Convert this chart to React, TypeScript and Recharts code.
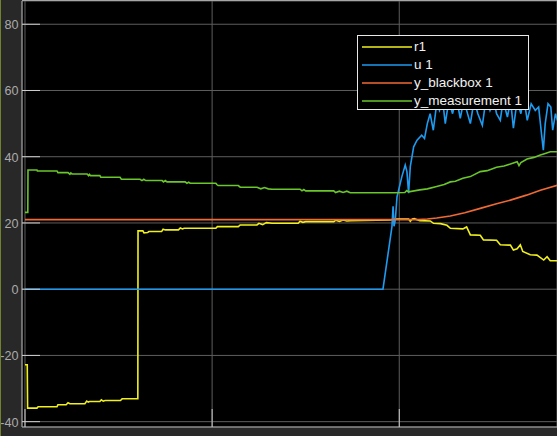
import React from 'react';
import { LineChart, Line, XAxis, YAxis, CartesianGrid, Legend } from 'recharts';

type Pt = { t: number; v: number };
const mk = (arr: number[][]): Pt[] => arr.map(([t, v]) => ({ t, v }));

const seriesNames = ['r1', 'u 1', 'y_blackbox 1', 'y_measurement 1'];
const seriesColors = ['#f0f01e', '#1e9bf0', '#f06a35', '#6ac62a'];
const yTicks = [-40, -20, 0, 20, 40, 60, 80];
const xTicks = [0, 10, 20];

const r1Values = [
  [0, -22.8], [0.12, -22.8], [0.14, -35.9], [0.64, -35.9], [0.7, -35.5], [1.71, -35.5], [1.76, -34.9],
  [2.2, -34.9], [2.3, -34.3], [2.4, -34.6], [3.2, -34.6], [3.3, -33.8], [3.38, -34.1], [3.45, -33.9],
  [4.0, -33.9], [4.08, -33.4], [4.18, -33.8], [4.28, -33.6], [5.1, -33.6], [5.19, -33.1], [6.03, -33.1],
  [6.04, 17.6], [6.3, 17.6], [6.36, 17.0], [6.55, 17.1], [6.62, 17.4], [7.3, 17.4], [7.38, 18.1],
  [7.5, 17.9], [8.2, 17.9], [8.3, 18.5], [8.42, 18.2], [8.5, 18.4], [10.2, 18.4], [10.28, 18.9],
  [11.4, 18.9], [11.5, 19.4], [12.4, 19.4], [12.5, 19.9], [12.7, 19.5], [12.9, 20.1], [13.2, 19.9],
  [14.6, 19.9], [14.7, 20.5], [14.85, 20.2], [15.0, 20.4], [16.5, 20.4], [16.6, 20.8], [16.8, 20.5],
  [17.0, 20.9], [17.2, 20.6], [17.4, 20.7], [19.5, 20.9], [19.8, 21.2], [20.5, 21.2], [20.59, 20.5],
  [20.7, 21.2], [20.8, 21.3], [21.1, 20.7], [21.66, 20.6], [21.83, 19.9], [22.2, 19.8], [22.55, 19.3],
  [22.73, 18.4], [23.4, 18.2], [23.6, 18.8], [23.8, 16.4], [24.33, 16.3], [24.5, 14.9], [25.2, 14.8],
  [25.4, 13.4], [25.94, 13.3], [26.1, 11.8], [26.3, 12.2], [26.47, 13.4], [26.6, 11.4], [27.0, 10.4],
  [27.36, 10.3], [27.72, 8.8], [27.9, 9.8], [28.07, 8.6], [28.45, 8.6],
];

const u1Values = [
  [0, 0], [19.13, 0], [19.61, 18.9], [19.67, 25], [19.72, 19], [19.79, 20.9], [19.88, 27.9],
  [20.14, 34], [20.32, 37.5], [20.41, 35.5], [20.5, 29], [20.59, 37], [20.77, 43], [20.95, 45],
  [21.2, 46.5], [21.35, 45.5], [21.5, 50], [21.65, 53], [21.82, 48], [22.0, 56], [22.15, 54],
  [22.3, 58], [22.46, 50], [22.65, 57], [22.85, 53], [23.05, 58], [23.26, 51.6], [23.45, 57],
  [23.6, 54], [23.8, 50], [24.0, 57], [24.2, 53], [24.44, 49.5], [24.65, 58], [24.85, 54],
  [25.05, 57], [25.2, 53], [25.4, 51], [25.55, 57], [25.78, 52], [25.95, 57], [26.1, 48.6],
  [26.3, 57], [26.5, 53], [26.65, 58], [26.84, 51], [27.05, 56], [27.27, 54], [27.45, 55],
  [27.6, 47], [27.7, 42], [27.8, 50], [27.95, 56], [28.1, 55], [28.2, 48], [28.35, 53], [28.45, 51],
];

const yBlackboxValues = [
  [0, 21.0], [21.0, 21.0], [21.5, 21.2], [22.0, 21.5], [22.73, 22.1], [23.5, 23.1], [24.33, 24.4],
  [25.2, 25.8], [25.94, 26.9], [26.8, 28.4], [27.54, 29.9], [28.45, 31.4],
];

const yMeasurementValues = [
  [0, 23.2], [0.15, 23.2], [0.16, 36.0], [0.64, 36.0], [0.66, 35.7], [1.71, 35.7], [1.76, 35.2],
  [2.3, 35.2], [2.4, 34.7], [2.45, 35.1], [2.51, 34.8], [3.32, 34.8], [3.4, 34.3], [3.45, 34.7],
  [3.5, 34.3], [4.0, 34.3], [4.05, 33.8], [5.08, 33.8], [5.15, 33.2], [6.15, 33.2], [6.25, 32.8],
  [6.35, 33.2], [6.45, 32.8], [7.33, 32.8], [7.4, 32.4], [7.5, 32.8], [7.59, 32.4], [8.56, 32.4],
  [8.65, 32.0], [8.75, 32.3], [8.82, 32.0], [10.2, 32.0], [10.25, 31.6], [10.32, 31.3], [11.4, 31.3],
  [11.5, 30.8], [12.4, 30.8], [12.6, 30.3], [12.8, 30.7], [13.0, 30.3], [13.2, 30.2], [14.7, 30.2],
  [14.8, 29.7], [14.9, 30.1], [15.0, 29.7], [16.5, 29.7], [16.6, 29.2], [16.8, 29.6], [17.0, 29.2],
  [17.2, 29.6], [17.38, 29.1], [19.7, 29.1], [20.3, 29.2], [20.4, 29.8], [20.5, 29.4], [21.1, 30.0],
  [21.5, 30.3], [22.0, 31.0], [22.4, 31.6], [22.73, 32.4], [23.0, 32.6], [23.4, 33.5], [23.8, 34.0],
  [24.33, 35.5], [24.7, 35.8], [25.2, 36.8], [25.6, 37.2], [25.94, 37.8], [26.3, 38.5], [26.4, 37.3],
  [26.5, 38.2], [26.83, 39.3], [27.2, 39.8], [27.54, 40.5], [27.8, 41.0], [28.07, 41.5], [28.45, 41.5],
];

const seriesData = [mk(r1Values), mk(u1Values), mk(yBlackboxValues), mk(yMeasurementValues)];

const FONT = '"Liberation Sans", Arial, sans-serif';

const YTick = (props: any) => {
  const { x, y, payload } = props;
  return (
    <g>
      <line x1={x + 3.5} x2={x + 21.5} y1={y} y2={y} stroke="#cfcfcf" strokeWidth={1} />
      <text x={x} y={y} dy={5} textAnchor="end" fill="#ababab" fontSize={12.6} fontFamily={FONT}>
        {payload.value}
      </text>
    </g>
  );
};

const XTick = (props: any) => {
  const { x, y } = props;
  return <line x1={x} x2={x} y1={y} y2={y - 18} stroke="#cfcfcf" strokeWidth={1} />;
};

const LegendBox = () => (
  <div
    style={{
      position: 'relative',
      boxSizing: 'border-box',
      width: 172,
      height: 75,
      border: '1px solid #e8e8e8',
      background: '#000',
      fontFamily: FONT,
    }}
  >
    {seriesNames.map((name, i) => (
      <div
        key={name}
        style={{ position: 'absolute', left: 4, top: 2 + i * 18, height: 18, width: 166, display: 'flex', alignItems: 'center' }}
      >
        <svg width={50} height={4} style={{ flexShrink: 0, marginRight: 2, display: 'block' }}>
          <line x1={0} x2={50} y1={2} y2={2} stroke={seriesColors[i]} strokeWidth={1.5} />
        </svg>
        <span style={{ color: '#f2f2f2', fontSize: 13.5, lineHeight: '18px', whiteSpace: 'nowrap' }}>{name}</span>
      </div>
    ))}
  </div>
);

export default function App() {
  return (
    <div style={{ position: 'absolute', left: 0, top: 0, width: 557, height: 436, background: '#282828', overflow: 'hidden' }}>
      <LineChart width={557} height={436} margin={{ top: 1, right: 0, bottom: 0, left: 0 }}>
        <CartesianGrid fill="#000" stroke="#5e5e5e" strokeWidth={1} />
        <XAxis
          dataKey="t"
          type="number"
          domain={[-0.16, 28.43]}
          allowDataOverflow
          ticks={xTicks}
          height={9}
          tickSize={0}
          tickMargin={0}
          tickLine={false}
          tick={<XTick />}
          axisLine={{ stroke: '#a6a6a6' }}
        />
        <YAxis
          type="number"
          domain={[-41.61, 87.02]}
          allowDataOverflow
          ticks={yTicks}
          width={22}
          tickSize={0}
          tickMargin={3.5}
          tickLine={false}
          tick={<YTick />}
          axisLine={{ stroke: '#a6a6a6' }}
        />
        {seriesData.map((d, i) => (
          <Line
            key={seriesNames[i]}
            data={d}
            dataKey="v"
            name={seriesNames[i]}
            stroke={seriesColors[i]}
            strokeWidth={1.6}
            dot={false}
            activeDot={false}
            type="linear"
            isAnimationActive={false}
          />
        ))}
        <Legend
          layout="horizontal"
          verticalAlign="middle"
          align="center"
          content={<LegendBox />}
          wrapperStyle={{ left: 357, top: 35, width: 172, height: 75 }}
        />
      </LineChart>
      <div style={{ position: 'absolute', left: 22, top: 0, width: 535, height: 1, background: '#a6a6a6' }} />
      <div style={{ position: 'absolute', left: 0, top: 0, width: 1, height: 436, background: '#72812c' }} />
    </div>
  );
}
